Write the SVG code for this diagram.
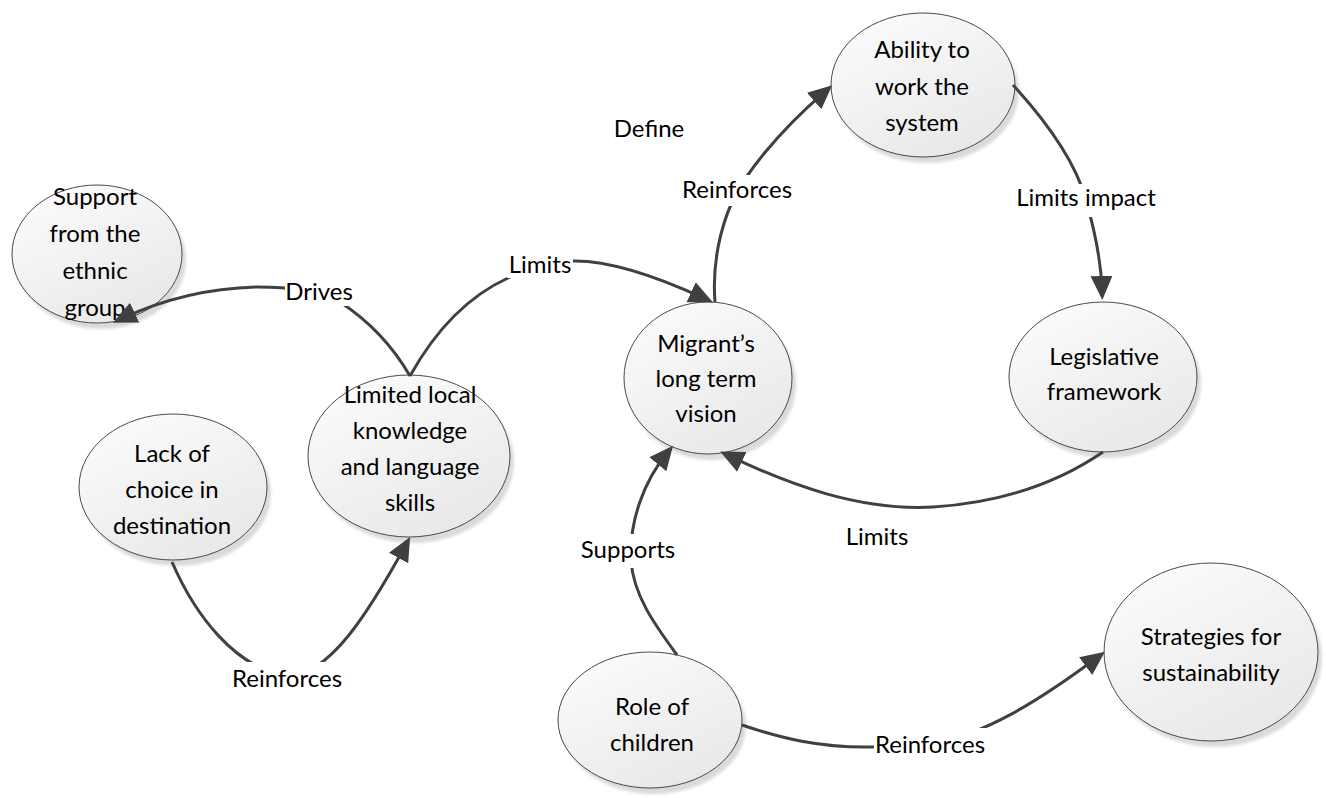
<svg xmlns="http://www.w3.org/2000/svg" width="1326" height="798" viewBox="0 0 1326 798">
  <defs>
    <linearGradient id="nodeFill" x1="0" y1="0" x2="0.6" y2="1">
      <stop offset="0" stop-color="#fdfdfd"/>
      <stop offset="1" stop-color="#e9e9e9"/>
    </linearGradient>
    <filter id="soft" x="-10%" y="-10%" width="120%" height="120%">
      <feGaussianBlur stdDeviation="1.5"/>
    </filter>
    <marker id="arrow" markerUnits="userSpaceOnUse" markerWidth="26" markerHeight="24" refX="14" refY="11" orient="auto">
      <path d="M0,0 L24,11 L0,22 z" fill="#404040"/>
    </marker>
    <style>
      .shadow { fill: #dadada; filter: url(#soft); }
      .node { fill: url(#nodeFill); stroke: #4a4a4a; stroke-width: 1; }
      .txt { font-family: Lato, "Liberation Sans", sans-serif; font-size: 24px; fill: #000; text-anchor: middle; }
      .edge { fill: none; stroke: #404040; stroke-width: 3; stroke-linejoin: round; }
      .arrowed { marker-end: url(#arrow); }
      .lblbg { fill: #ffffff; }
    </style>
  </defs>

  <rect width="1326" height="798" fill="#ffffff"/>

  <!-- nodes -->
  <g id="node-support">
    <ellipse class="shadow" cx="101" cy="260" rx="85" ry="69"/>
    <ellipse class="node" cx="97" cy="254" rx="85" ry="69"/>
    <text class="txt"><tspan x="95" y="205">Support</tspan><tspan x="95" y="242">from the</tspan><tspan x="95" y="279">ethnic</tspan><tspan x="95" y="316">group</tspan></text>
  </g>

  <g id="node-limited">
    <ellipse class="shadow" cx="413" cy="462" rx="101" ry="81"/>
    <ellipse class="node" cx="409" cy="456" rx="101" ry="81"/>
    <text class="txt"><tspan x="410" y="403">Limited local</tspan><tspan x="410" y="439">knowledge</tspan><tspan x="410" y="475">and language</tspan><tspan x="410" y="511">skills</tspan></text>
  </g>

  <g id="node-lack">
    <ellipse class="shadow" cx="177" cy="493" rx="94" ry="73"/>
    <ellipse class="node" cx="173" cy="487" rx="94" ry="73"/>
    <text class="txt"><tspan x="172" y="462">Lack of</tspan><tspan x="172" y="498">choice in</tspan><tspan x="172" y="534">destination</tspan></text>
  </g>

  <g id="node-migrant">
    <ellipse class="shadow" cx="712" cy="384" rx="84" ry="76"/>
    <ellipse class="node" cx="708" cy="378" rx="84" ry="76"/>
    <text class="txt"><tspan x="706" y="352">Migrant’s</tspan><tspan x="706" y="387">long term</tspan><tspan x="706" y="422">vision</tspan></text>
  </g>

  <g id="node-ability">
    <ellipse class="shadow" cx="927" cy="91" rx="92" ry="72"/>
    <ellipse class="node" cx="923" cy="85" rx="92" ry="72"/>
    <text class="txt"><tspan x="922" y="58">Ability to</tspan><tspan x="922" y="95">work the</tspan><tspan x="922" y="131">system</tspan></text>
  </g>

  <g id="node-legislative">
    <ellipse class="shadow" cx="1107" cy="383" rx="94" ry="75"/>
    <ellipse class="node" cx="1103" cy="377" rx="94" ry="75"/>
    <text class="txt"><tspan x="1104" y="365">Legislative</tspan><tspan x="1104" y="400">framework</tspan></text>
  </g>

  <g id="node-role">
    <ellipse class="shadow" cx="654" cy="726" rx="92" ry="68"/>
    <ellipse class="node" cx="650" cy="720" rx="92" ry="68"/>
    <text class="txt"><tspan x="652" y="715">Role of</tspan><tspan x="652" y="751">children</tspan></text>
  </g>

  <g id="node-strategies">
    <ellipse class="shadow" cx="1215" cy="658" rx="107" ry="89"/>
    <ellipse class="node" cx="1211" cy="652" rx="107" ry="89"/>
    <text class="txt"><tspan x="1211" y="645">Strategies for</tspan><tspan x="1211" y="681">sustainability</tspan></text>
  </g>

  <text class="txt" x="649" y="137">Define</text>

  <!-- connectors, drawn over the nodes -->
  <g id="connectors">
    <path class="edge arrowed" d="M410,376 C395,350 375,325 340,302 C315,290 290,287 257,287 C215,288 168,297 122,318.6"/>
    <path class="edge arrowed" d="M410,376 C430,340 460,300 508,278 C525,270 545,262 572,261 C610,260 660,278 703.8,298.1"/>
    <path class="edge arrowed" d="M715,302 C712,265 720,228 733,200 C745,175 775,135 824.7,91.8"/>
    <path class="edge arrowed" d="M1013,85 C1045,120 1075,160 1086,200 C1094,228 1101,260 1102,290"/>
    <path class="edge arrowed" d="M1103,452 C1065,478 1010,502 933,507 C860,511 790,485 729.2,455.9"/>
    <path class="edge arrowed" d="M677,655 C655,625 633,595 631,560 C629,520 645,480 666.7,453.5"/>
    <path class="edge arrowed" d="M172,562 C195,615 235,668 287,676 C330,676 370,610 405.3,545.8"/>
    <path class="edge arrowed" d="M742,725 C780,738 820,748 872,747 L930,744 C985,735 1040,700 1096.9,657.8"/>

    <!-- connector labels -->
    <g id="lbl-drives">
      <rect class="lblbg" x="285" y="279" width="68" height="27"/>
      <text class="txt" x="319" y="300">Drives</text>
    </g>
    <g id="lbl-limits-top">
      <rect class="lblbg" x="507" y="251" width="66" height="27"/>
      <text class="txt" x="540" y="273">Limits</text>
    </g>
    <g id="lbl-reinforces-top">
      <rect class="lblbg" x="681" y="175" width="112" height="31"/>
      <text class="txt" x="737" y="198">Reinforces</text>
    </g>
    <g id="lbl-limits-impact">
      <rect class="lblbg" x="1016" y="184" width="140" height="33"/>
      <text class="txt" x="1086" y="206">Limits impact</text>
    </g>
    <g id="lbl-limits-bottom">
      <text class="txt" x="877" y="545">Limits</text>
    </g>
    <g id="lbl-supports">
      <rect class="lblbg" x="581" y="534" width="95" height="34"/>
      <text class="txt" x="628" y="558">Supports</text>
    </g>
    <g id="lbl-reinforces-left">
      <rect class="lblbg" x="231" y="662" width="112" height="28"/>
      <text class="txt" x="287" y="687">Reinforces</text>
    </g>
    <g id="lbl-reinforces-right">
      <rect class="lblbg" x="874" y="728" width="113" height="30"/>
      <text class="txt" x="930" y="753">Reinforces</text>
    </g>
  </g>
</svg>
